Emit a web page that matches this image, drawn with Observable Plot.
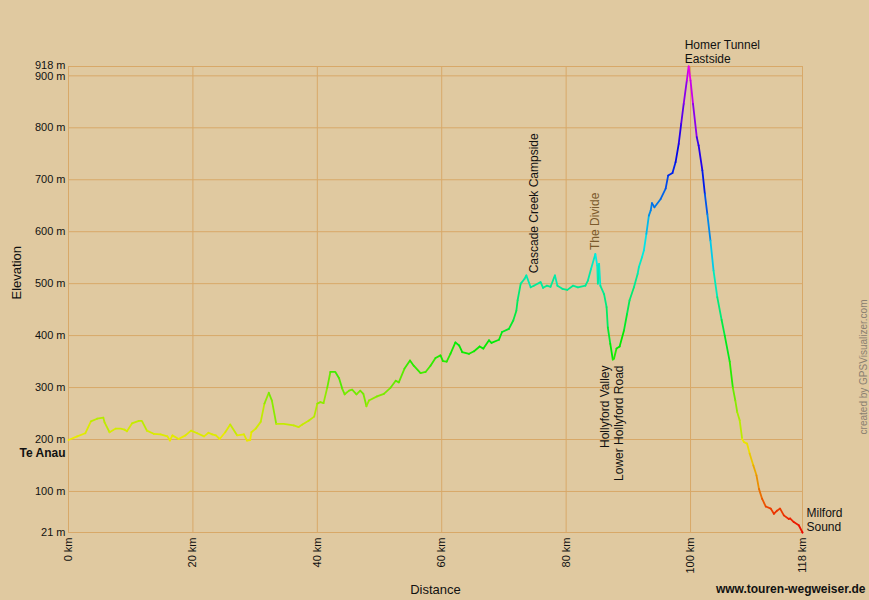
<!DOCTYPE html>
<html>
<head>
<meta charset="utf-8">
<script src="https://cdn.jsdelivr.net/npm/d3@7"></script>
<script src="https://cdn.jsdelivr.net/npm/@observablehq/plot@0.6"></script>
<style>
  html, body { margin: 0; padding: 0; background: #E0C9A0; }
  #chart svg { display: block; }
</style>
</head>
<body>
<div id="chart"></div>
<script>
// Distance along the route (km)
const dist = [0, 1.4, 2.7, 3.6, 4.6, 5.6, 5.8, 6.6, 7.6, 8.4, 9.0, 9.4, 10.2, 11.3, 11.8, 12.6, 13.7, 14.8, 15.9, 16.3, 16.7, 17.7, 18.8, 19.7, 20.7, 21.8, 22.5, 23.1, 23.7, 24.3, 25.2, 26.0, 27.1, 28.2, 28.7, 29.2, 29.4, 30.1, 30.9, 31.5, 32.2, 32.7, 33.4, 34.6, 36.2, 37.0, 37.6, 38.6, 39.5, 40.0, 40.5, 41.0, 41.6, 42.1, 42.9, 43.5, 44.0, 44.4, 45.1, 45.6, 46.3, 46.9, 47.4, 47.9, 48.3, 49.6, 50.7, 51.8, 52.6, 53.1, 54.0, 54.9, 55.5, 56.6, 57.4, 58.2, 59.0, 59.8, 60.2, 60.8, 61.4, 62.2, 62.8, 63.3, 64.4, 65.2, 66.1, 66.7, 67.6, 68.0, 69.2, 69.7, 70.8, 71.5, 72.0, 72.2, 72.7, 73.3, 73.6, 74.3, 74.8, 75.9, 76.3, 76.9, 77.5, 78.2, 78.6, 79.4, 80.2, 81.1, 81.9, 83.1, 83.5, 84.0, 84.7, 85.0, 85.1, 85.3, 85.5, 86.1, 86.5, 86.7, 87.1, 87.5, 87.7, 88.1, 88.6, 89.3, 89.8, 90.2, 90.9, 91.5, 91.7, 92.2, 92.5, 92.9, 93.3, 93.6, 93.8, 94.2, 95.2, 96.0, 96.4, 97.1, 97.6, 98.1, 98.5, 98.9, 99.4, 99.7, 100.0, 100.4, 101.0, 101.3, 101.9, 102.3, 102.7, 103.2, 103.7, 104.3, 105.0, 105.5, 106.3, 106.8, 107.2, 107.5, 107.9, 108.3, 108.6, 109.1, 109.5, 110.1, 110.6, 111.0, 111.5, 112.1, 112.9, 113.4, 113.9, 114.4, 115.0, 115.8, 116.0, 116.6, 117.4, 118.0];
// Elevation (m)
const elev = [199, 206, 212, 235, 240, 242, 233, 214, 221, 221, 219, 216, 231, 236, 236, 217, 211, 210, 206, 198, 208, 201, 208, 217, 212, 206, 213, 210, 208, 201, 214, 229, 208, 210, 198, 199, 214, 221, 234, 269, 290, 275, 230, 230, 227, 224, 229, 236, 244, 269, 272, 270, 300, 330, 330, 318, 298, 287, 294, 296, 287, 294, 288, 264, 275, 283, 288, 300, 313, 310, 336, 352, 342, 328, 330, 342, 357, 362, 351, 350, 365, 387, 381, 368, 365, 370, 379, 375, 391, 386, 392, 407, 413, 429, 448, 468, 500, 509, 516, 493, 496, 503, 492, 496, 494, 516, 496, 490, 488, 496, 493, 496, 506, 528, 557, 535, 500, 538, 496, 480, 455, 416, 384, 354, 356, 375, 379, 410, 442, 468, 493, 519, 532, 551, 564, 596, 631, 641, 655, 647, 663, 683, 708, 713, 734, 769, 808, 846, 891, 918, 891, 846, 782, 766, 718, 673, 634, 583, 525, 474, 430, 400, 350, 300, 275, 253, 237, 201, 195, 192, 173, 150, 131, 105, 86, 71, 67, 57, 63, 67, 54, 47, 48, 41, 35, 21];

// Axis ticks
const xTicks = [0, 20, 40, 60, 80, 100, 118];
const yTicks = [21, 100, 200, 300, 400, 500, 600, 700, 800, 900, 918];

// Waypoint labels
const wpText = ["Te Anau", "Cascade Creek Campside", "The Divide", "Hollyford Valley\nLower Hollyford Road", "Homer Tunnel\nEastside", "Milford\nSound"];
const wpDist = [0, 73.6, 84.7, 87.5, 99.7, 118];
const wpElev = [199, 516, 557, 354, 918, 21];

const profile = dist.map((d, i) => ({dist: d, elev: elev[i]}));
const wp = wpText.map((t, i) => ({text: t, dist: wpDist[i], elev: wpElev[i]}));

const gridColor = "#D8A868";
const font = "Arial, 'Liberation Sans', sans-serif";
const yFmt = d => `${d} m`;

const chart = Plot.plot({
  width: 869,
  height: 600,
  marginLeft: 68,
  marginRight: 67,
  marginTop: 66,
  marginBottom: 68,
  style: {background: "#E0C9A0", fontFamily: font, fontSize: "11px", color: "#111", overflow: "visible"},
  x: {domain: [0, 118]},
  y: {domain: [21, 918]},
  color: {type: "linear", domain: [21, 918], interpolate: t => d3.hsl(300 * t, 1, 0.46).formatHex()},
  marks: [
    Plot.ruleX(xTicks, {stroke: gridColor, strokeWidth: 1}),
    Plot.ruleY(yTicks, {stroke: gridColor, strokeWidth: 1}),
    Plot.axisY(yTicks.filter(d => d < 900), {tickSize: 0, tickPadding: 3, tickFormat: yFmt, label: null, fontSize: 11}),
    Plot.axisY([900], {tickSize: 0, tickPadding: 3, tickFormat: yFmt, label: null, fontSize: 11, dy: 1}),
    Plot.axisY([918], {tickSize: 0, tickPadding: 3, tickFormat: yFmt, label: null, fontSize: 11, dy: -1.5}),
    Plot.axisX(xTicks, {tickSize: 0, tickPadding: 5, tickRotate: -90, tickFormat: d => `${d} km`, label: null, fontSize: 11}),
    Plot.line(profile, {x: "dist", y: "elev", stroke: "elev", z: null, strokeWidth: 1.8}),
    // waypoint labels
    Plot.text(wp.slice(0, 1), {x: "dist", y: "elev", text: "text", textAnchor: "end", dx: -3, dy: 13, fontSize: 12, fontWeight: "bold", fill: "#111"}),
    Plot.text(wp.slice(1, 2), {x: "dist", y: "elev", text: "text", rotate: -90, textAnchor: "start", dx: 8, dy: -2, fontSize: 12, fill: "#111"}),
    Plot.text(wp.slice(2, 3), {x: "dist", y: "elev", text: "text", rotate: -90, textAnchor: "start", dx: 0, dy: -4, fontSize: 12, fill: "#7B5A2C"}),
    Plot.text(wp.slice(3, 4), {x: "dist", y: "elev", text: "text", rotate: -90, textAnchor: "end", dx: -1, dy: 6, fontSize: 12, lineHeight: 1.15, fill: "#111"}),
    Plot.text(wp.slice(4, 5), {x: "dist", y: "elev", text: "text", textAnchor: "start", lineAnchor: "bottom", dx: -4, dy: -4, fontSize: 12, lineHeight: 1.1, fill: "#111"}),
    Plot.text(wp.slice(5, 6), {x: "dist", y: "elev", text: "text", textAnchor: "start", lineAnchor: "bottom", dx: 4, dy: -2, fontSize: 12, lineHeight: 1.15, fill: "#111"}),
    // axis titles and credits
    Plot.text(["Elevation"], {frameAnchor: "left", dx: -52, rotate: -90, fontSize: 13, fill: "#111"}),
    Plot.text(["Distance"], {frameAnchor: "bottom", dy: 61, fontSize: 13, fill: "#111"}),
    Plot.text(["www.touren-wegweiser.de"], {frameAnchor: "bottom-right", textAnchor: "end", dx: 63, dy: 60, fontSize: 12, fontWeight: "bold", fill: "#111"}),
    Plot.text(["created by GPSVisualizer.com"], {frameAnchor: "right", dx: 61, rotate: -90, fontSize: 10, fill: "#8A8070"})
  ]
});

document.getElementById("chart").appendChild(chart);
</script>
</body>
</html>
